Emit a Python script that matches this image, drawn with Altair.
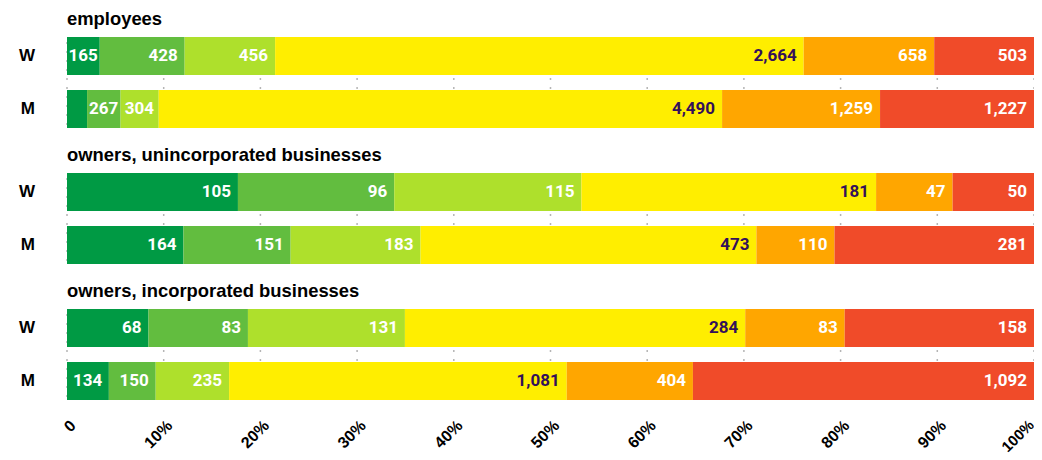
import altair as alt
import pandas as pd

groups = ["employees", "owners, unincorporated businesses", "owners, incorporated businesses"]
sexes = ["W", "M"]
categories = ["c1", "c2", "c3", "c4", "c5", "c6"]
colors = ["#009a44", "#62bd3f", "#aee02c", "#ffee00", "#ffa600", "#f04b29"]

emp_w = [165, 428, 456, 2664, 658, 503]
emp_m = [160, 267, 304, 4490, 1259, 1227]
uninc_w = [105, 96, 115, 181, 47, 50]
uninc_m = [164, 151, 183, 473, 110, 281]
inc_w = [68, 83, 131, 284, 83, 158]
inc_m = [134, 150, 235, 1081, 404, 1092]

tick_values = [0, 0.1, 0.2, 0.3, 0.4, 0.5, 0.6, 0.7, 0.8, 0.9, 1.0]

series = {
    (groups[0], "W"): emp_w, (groups[0], "M"): emp_m,
    (groups[1], "W"): uninc_w, (groups[1], "M"): uninc_m,
    (groups[2], "W"): inc_w, (groups[2], "M"): inc_m,
}

rows = []
for (g, s), vals in series.items():
    for i, (c, v) in enumerate(zip(categories, vals)):
        rows.append({"group": g, "sex": s, "cat": c, "order": i, "value": v})
df = pd.DataFrame(rows)
df_rows = pd.DataFrame([{"group": g, "sex": s} for (g, s) in series.keys()])
df_groups = pd.DataFrame({"group": groups})
df_grid = pd.DataFrame([{"group": g, "t": t} for g in groups for t in tick_values])

W = 967
H = 363

yscale = alt.Scale(domain=groups, paddingInner=45 / 136, paddingOuter=0)
xscale = alt.Scale(domain=[0, 1], nice=False)
yoff = alt.YOffset("sex:N", sort=sexes,
                   scale=alt.Scale(domain=sexes, paddingInner=0.283, paddingOuter=0))

xaxis = alt.Axis(
    values=tick_values, title=None, grid=False, domain=False, ticks=False,
    labelExpr="datum.value == 0 ? '0' : format(datum.value, '.0%')",
    labelAngle=-45, labelAlign="right", labelBaseline="top",
    labelFontSize={"condition": {"test": "datum.value == 1", "value": 15}, "value": 16},
    labelFont="Liberation Sans", labelFontWeight="bold",
    labelColor="black", labelPadding=17, labelOverlap=False, labelBound=False,
    labelFlush=False,
    labelOffset={"condition": {"test": "datum.value == 1", "value": -8}, "value": 0},
)

def ydef(**kw):
    return alt.Y("group:N", sort=groups, scale=yscale, axis=None, **kw)

def xfield(f):
    return alt.X(f, scale=xscale, axis=xaxis)

base = (
    alt.Chart(df)
    .transform_stack(
        stack="value", groupby=["group", "sex"], as_=["x0", "x1"],
        offset="normalize", sort=[alt.SortField("order")],
    )
    .transform_calculate(
        label="datum.x1 - datum.x0 > 0.025 ? format(datum.value, ',') : ''",
        segw=f"(datum.x1 - datum.x0) * {W}",
    )
    .transform_calculate(
        pad="clamp((datum.segw - length(datum.label) * 9.6) / 2, 2, 7)"
    )
    .transform_calculate(xt=f"datum.x1 - datum.pad / {W}")
)

grid = alt.Chart(df_grid).mark_rule(
    color="#b5b5b5", strokeWidth=1.5, strokeDash=[2, 7], strokeDashOffset=4
).encode(
    x=xfield("t:Q"),
    y=ydef(bandPosition=0),
    y2=alt.Y2("group", bandPosition=1),
)

bars = base.mark_bar().encode(
    x=xfield("x0:Q"),
    x2="x1:Q",
    y=ydef(),
    yOffset=yoff,
    color=alt.Color("cat:N", scale=alt.Scale(domain=categories, range=colors), legend=None),
)

values = base.mark_text(
    align="right", baseline="middle", font="Roboto", fontWeight="bold", fontSize=17
).encode(
    x=xfield("xt:Q"),
    y=ydef(),
    yOffset=yoff,
    text="label:N",
    color=alt.condition(alt.datum.cat == "c4", alt.value("#33105a"), alt.value("white")),
)

sex_labels = alt.Chart(df_rows).mark_text(
    align="right", baseline="middle", font="Liberation Sans", fontWeight="bold",
    fontSize=17, color="black", dx=-32,
).encode(
    x=alt.X(datum=0, scale=xscale, axis=xaxis),
    y=ydef(),
    yOffset=yoff,
    text="sex:N",
)

titles = alt.Chart(df_groups).mark_text(
    align="left", baseline="alphabetic", font="Liberation Sans", fontWeight="bold",
    fontSize=18.4, color="black", dy=-12.5,
).encode(
    x=alt.X(datum=0, scale=xscale, axis=xaxis),
    y=ydef(bandPosition=0),
    text="group:N",
)

chart = (
    alt.layer(grid, bars, values, sex_labels, titles)
    .properties(
        width=W, height=H,
        autosize=alt.AutoSizeParams(type="none"),
        padding={"left": 59, "top": 29, "right": 0, "bottom": 66},
    )
    .configure_view(stroke=None)
)

chart.save("out.html", embed_options={"renderer": "svg", "actions": False})
